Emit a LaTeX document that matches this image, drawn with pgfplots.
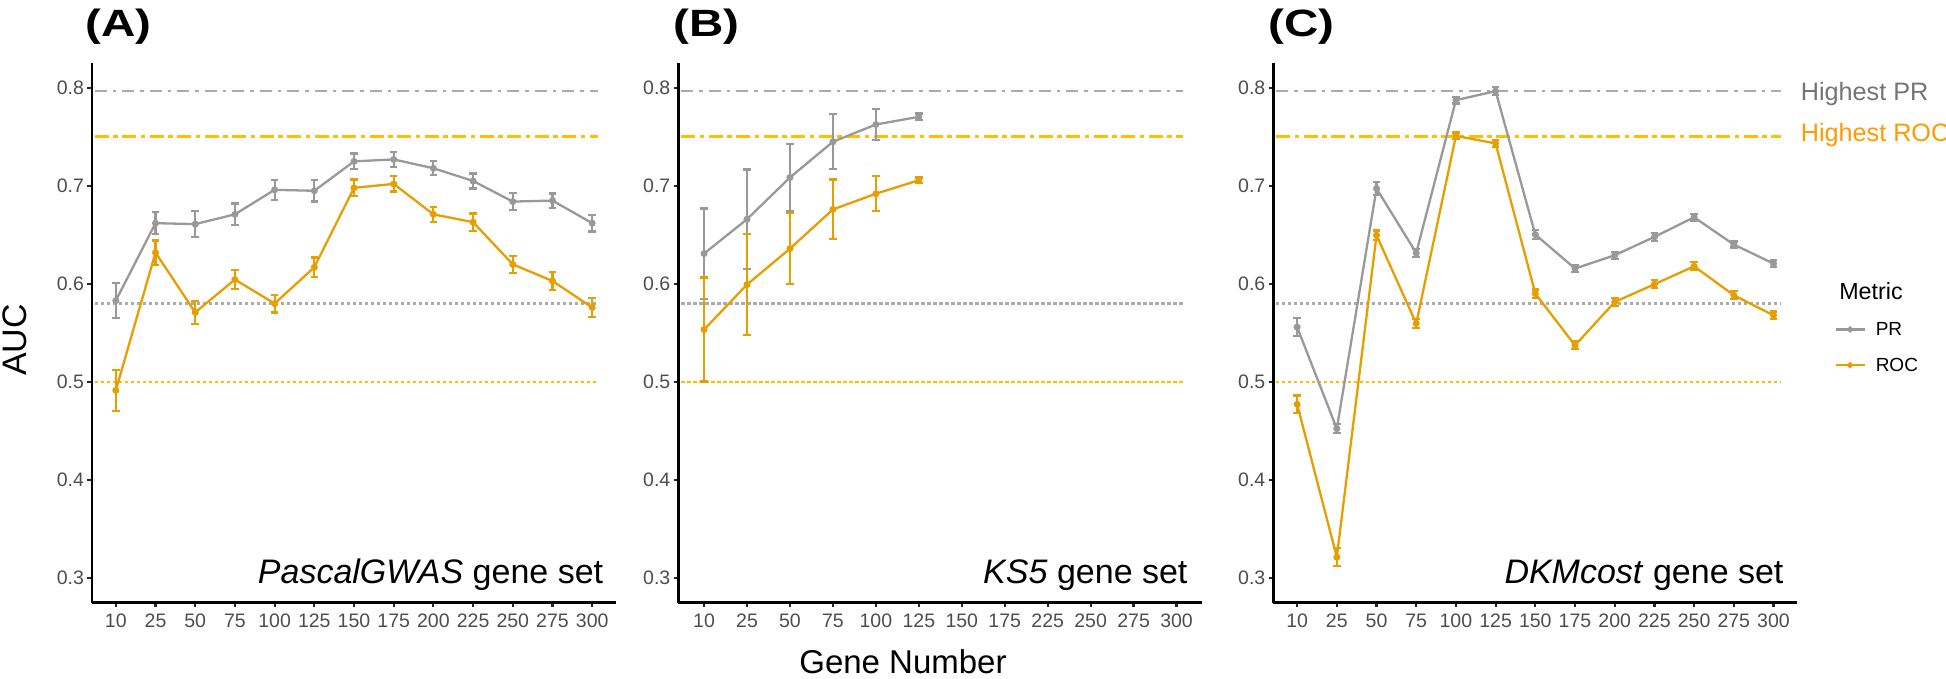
\documentclass[border=0pt]{standalone}
\usepackage{fontspec}
\setmainfont{Liberation Sans}
\usepackage{pgfplots}
\pgfplotsset{compat=1.18}
\usepackage{pgfplotstable}

\definecolor{prgrey}{HTML}{999999}
\definecolor{rocorange}{HTML}{E69F00}
\definecolor{hlgrey}{HTML}{ABABAB}
\definecolor{hlgold}{HTML}{FFBF00}
\definecolor{ticktext}{HTML}{4D4D4D}
\definecolor{hprtext}{HTML}{747474}
\definecolor{hroctext}{HTML}{FF9A00}

% PascalGWAS gene set
\pgfplotstableread{
x y e
1 0.583 0.018
2 0.662 0.011
3 0.661 0.0135
4 0.671 0.011
5 0.696 0.010
6 0.695 0.011
7 0.725 0.008
8 0.727 0.0077
9 0.718 0.007
10 0.705 0.0077
11 0.684 0.0088
12 0.685 0.0073
13 0.662 0.0085
}\aPR
\pgfplotstableread{
x y e
1 0.4915 0.021
2 0.632 0.0124
3 0.571 0.0116
4 0.6045 0.0095
5 0.580 0.009
6 0.617 0.010
7 0.698 0.0085
8 0.702 0.0077
9 0.671 0.0077
10 0.663 0.0088
11 0.620 0.0087
12 0.603 0.009
13 0.576 0.0094
}\aROC
% KS5 gene set
\pgfplotstableread{
x y e
1 0.631 0.046
2 0.666 0.0507
3 0.7086 0.0345
4 0.745 0.028
5 0.7626 0.0158
6 0.7704 0.0034
}\bPR
\pgfplotstableread{
x y e
1 0.5535 0.053
2 0.5994 0.0514
3 0.636 0.036
4 0.676 0.0305
5 0.692 0.018
6 0.7058 0.0027
}\bROC
% DKMcost gene set
\pgfplotstableread{
x y e
1 0.556 0.009
2 0.4524 0.0045
3 0.6973 0.0068
4 0.6316 0.004
5 0.7874 0.0034
6 0.7966 0.004
7 0.6504 0.0048
8 0.6157 0.0034
9 0.6293 0.0036
10 0.648 0.004
11 0.668 0.0034
12 0.6402 0.003
13 0.6208 0.0034
}\cPR
\pgfplotstableread{
x y e
1 0.4773 0.009
2 0.3214 0.009
3 0.6497 0.0048
4 0.5596 0.0046
5 0.751 0.0034
6 0.7433 0.0037
7 0.5902 0.0042
8 0.5374 0.004
9 0.5816 0.004
10 0.5997 0.004
11 0.618 0.004
12 0.5885 0.004
13 0.568 0.004
}\cROC

\pgfplotsset{
  panel/.style={
    scale only axis, width=524pt, height=539.4pt,
    anchor=south west,
    ymin=0.275, ymax=0.825,
    ytick={0.3,0.4,0.5,0.6,0.7,0.8},
    axis x line*=bottom, axis y line*=left,
    axis line style={line width=2.6pt, black, -},
    tick align=outside, major tick length=4.5pt,
    tick style={line width=2.2pt, black!85},
    tick label style={font=\fontsize{19.5}{20}\selectfont, text=ticktext},
    xticklabel style={yshift=-3pt},
    yticklabel style={/pgf/number format/.cd, fixed, fixed zerofill, precision=1},
    /pgf/number format/assume math mode=true,
    xtick={1,...,13},
  },
  prline/.style={color=prgrey, line width=2.3pt, mark=*, mark size=2.3pt, mark options={solid}},
  rocline/.style={color=rocorange, line width=2.3pt, mark=*, mark size=2.3pt, mark options={solid}},
  ebars/.style={/pgfplots/error bars/.cd, y dir=both, y explicit,
    error mark=|,
    error bar style={line width=2.2pt, solid},
    error mark options={line width=2.2pt, mark size=3.8pt}, /pgfplots/.cd},
  hlA/.style={hlgrey, line width=2.5pt, dash pattern=on 12pt off 6pt on 3.5pt off 6pt},
  hlB/.style={hlgold, line width=2.8pt, dash pattern=on 14pt off 4.5pt on 4.5pt off 4.5pt},
  hlC/.style={hlgrey, line width=2.6pt, dash pattern=on 3.3pt off 2.7pt},
  hlD/.style={hlgold, line width=2.6pt, dash pattern=on 3.3pt off 2.7pt},
}

\begin{document}
\begin{tikzpicture}
\useasboundingbox (0,0) rectangle (1946pt,679pt);

% (A)
\begin{axis}[panel, at={(92pt,76.3pt)}, xmin=0.4, xmax=13.6,
  xticklabels={10,25,50,75,100,125,150,175,200,225,250,275,300}]
\addplot[hlA] coordinates {(0.47,0.797) (13.15,0.797)};
\addplot[hlB] coordinates {(0.47,0.750) (13.15,0.750)};
\addplot[hlC] coordinates {(0.47,0.580) (13.15,0.580)};
\addplot[hlD] coordinates {(0.47,0.500) (13.15,0.500)};
\addplot[prline, ebars] table[x=x, y=y, y error=e] {\aPR};
\addplot[rocline, ebars] table[x=x, y=y, y error=e] {\aROC};
\end{axis}

% (B)
\begin{axis}[panel, at={(678.3pt,76.3pt)}, xmin=0.4, xmax=12.6, xtick={1,...,12},
  xticklabels={10,25,50,75,100,125,150,175,225,250,275,300}]
\addplot[hlA] coordinates {(0.47,0.797) (12.15,0.797)};
\addplot[hlB] coordinates {(0.47,0.750) (12.15,0.750)};
\addplot[hlC] coordinates {(0.47,0.580) (12.15,0.580)};
\addplot[hlD] coordinates {(0.47,0.500) (12.15,0.500)};
\addplot[prline, ebars] table[x=x, y=y, y error=e] {\bPR};
\addplot[rocline, ebars] table[x=x, y=y, y error=e] {\bROC};
\end{axis}

% (C)
\begin{axis}[panel, at={(1273.3pt,76.3pt)}, xmin=0.4, xmax=13.6,
  xticklabels={10,25,50,75,100,125,150,175,200,225,250,275,300},
  legend style={at={(axis description cs:1.0705,0.4733)}, anchor=west,
    draw=none, fill=none, inner sep=0pt, row sep=17pt, column sep=8pt,
    font=\fontsize{19}{19}\selectfont},
  legend cell align=left,
  legend image code/.code={\draw[#1, mark repeat=2, mark phase=2]
    plot coordinates {(0pt,0pt) (14.5pt,0pt) (29pt,0pt)};}]
\addplot[hlA, forget plot] coordinates {(0.47,0.797) (13.2,0.797)};
\addplot[hlB, forget plot] coordinates {(0.47,0.750) (13.2,0.750)};
\addplot[hlC, forget plot] coordinates {(0.47,0.580) (13.2,0.580)};
\addplot[hlD, forget plot] coordinates {(0.47,0.500) (13.2,0.500)};
\addplot[prline, forget plot, ebars] table[x=x, y=y, y error=e] {\cPR};
\addplot[rocline, forget plot, ebars] table[x=x, y=y, y error=e] {\cROC};
\addlegendimage{prline, mark size=1.8pt}
\addlegendentry{PR}
\addlegendimage{rocline, mark size=1.8pt}
\addlegendentry{ROC}
\end{axis}

% panel letters
\node[anchor=base west, font=\fontsize{38}{38}\selectfont\bfseries] at (81.7pt,642.3pt) {\scalebox{1.25}[1]{(A)}};
\node[anchor=base west, font=\fontsize{38}{38}\selectfont\bfseries] at (670pt,642.3pt) {\scalebox{1.25}[1]{(B)}};
\node[anchor=base west, font=\fontsize{38}{38}\selectfont\bfseries] at (1265pt,642.3pt) {\scalebox{1.25}[1]{(C)}};

% gene set labels
\node[anchor=base east, font=\fontsize{34}{34}\selectfont] at (606.7pt,95.7pt) {\textit{PascalGWAS} gene set};
\node[anchor=base east, font=\fontsize{34}{34}\selectfont] at (1191pt,95.7pt) {\textit{KS5} gene set};
\node[anchor=base east, font=\fontsize{34}{34}\selectfont] at (1787pt,95.7pt) {\textit{DKMcost} gene set};

% axis titles
\node[rotate=90, anchor=base, font=\fontsize{34}{34}\selectfont] at (27pt,339pt) {AUC};
\node[anchor=base, font=\fontsize{33}{33}\selectfont] at (903pt,5pt) {Gene Number};

% reference line labels and legend title
\node[anchor=base west, font=\fontsize{25.2}{26}\selectfont, text=hprtext] at (1797.3pt,578pt) {Highest PR};
\node[anchor=base west, font=\fontsize{25.2}{26}\selectfont, text=hroctext] at (1797.3pt,537.3pt) {Highest ROC};
\node[anchor=base west, font=\fontsize{23.3}{24}\selectfont] at (1835.7pt,379pt) {Metric};
\end{tikzpicture}
\end{document}
